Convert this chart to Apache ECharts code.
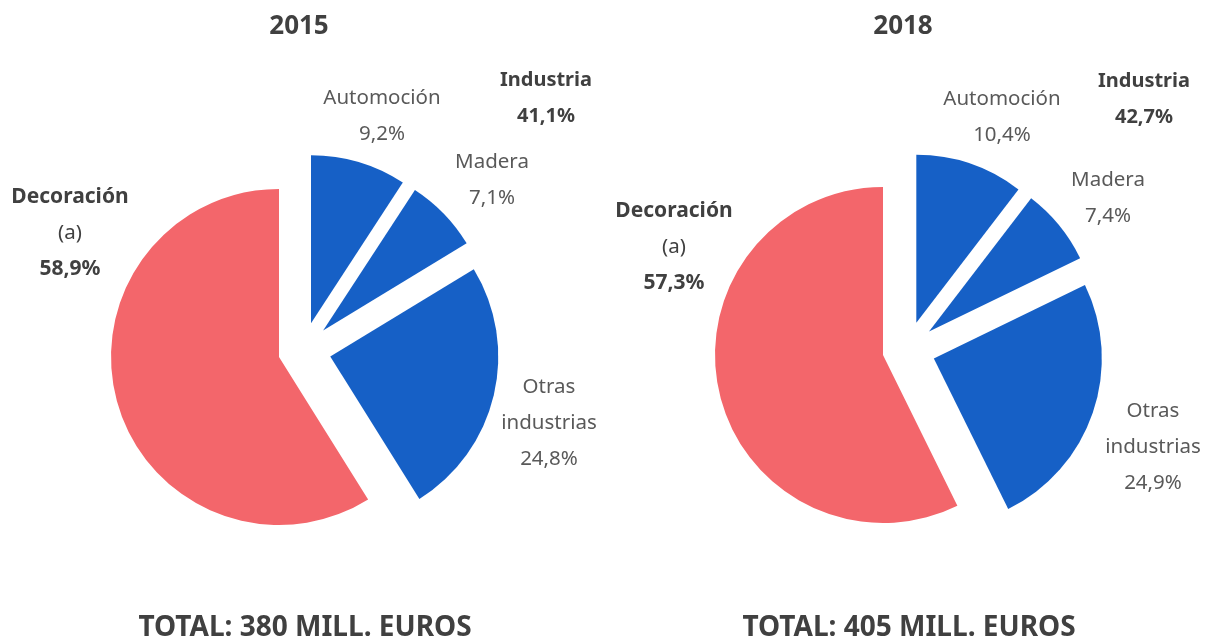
<!DOCTYPE html>
<html>
<head>
<meta charset="utf-8">
<script src="https://cdn.jsdelivr.net/npm/echarts@6/dist/echarts.min.js"></script>
<style>
html, body { margin: 0; background: #fff; }
#main { width: 1205px; height: 641px; }
</style>
</head>
<body>
<div id="main"></div>
<script>
// data (clockwise from 12 o'clock)
var years = ['2015', '2018']
var sectors = ['Automoción', 'Madera', 'Otras industrias', 'Decoración (a)']
var share2015 = [9.2, 7.1, 24.8, 58.9]
var share2018 = [10.4, 7.4, 24.9, 57.3]
var industria = [41.1, 42.7]
var totals = [380, 405]

var colors = ['#1660C6', '#1660C6', '#1660C6', '#F3666B']
var centers = [[279, 357], [883, 355]]
var labelPos = [
	[[382, 116], [492, 180], [549, 423], [70, 233]],
	[[1002, 117], [1108, 198], [1153, 447], [674, 247]]
]
var industriaPos = [[546, 98], [1144, 99]]

function fmt(v) { return v.toFixed(1).replace('.', ',') + '%' }
function dir(pct) {
	var a = pct / 100 * 2 * Math.PI
	return [Math.sin(a), -Math.cos(a)]
}

var font = 'Noto Sans'
var myChart = echarts.init(document.getElementById('main'))

var series = []
years.forEach(function (y, k) {
	var vals = k == 0 ? share2015 : share2018
	var cum = 0
	vals.forEach(function (v, i) {
		var mid = cum + v / 2
		cum += v
		var off = [0, 0]
		// blue slices: whole "industria" group pulled out, then each slice pulled out again
		if (i < 3) {
			var g = dir(industria[k] / 2), o = dir(mid)
			off = [25 * g[0] + 28 * o[0], 25 * g[1] + 28 * o[1]]
		}
		series.push({
			type: 'pie',
			radius: 168,
			center: [centers[k][0] + off[0], centers[k][1] + off[1]],
			startAngle: 90,
			clockwise: true,
			silent: true,
			animation: false,
			avoidLabelOverlap: false,
			labelLine: { show: false },
			emphasis: { disabled: true },
			data: vals.map(function (w, j) {
				var isDeco = j == 3
				var parts = sectors[j].split(' ')
				var txt = isDeco
					? '{b|' + parts[0] + '}\n{n|' + parts[1] + '}\n{b|' + fmt(w) + '}'
					: parts.map(function (p) { return '{r|' + p + '}' }).join('\n') + '\n{r|' + fmt(w) + '}'
				return {
					name: sectors[j],
					value: w,
					itemStyle: { color: j == i ? colors[j] : 'rgba(0,0,0,0)', borderWidth: 0 },
					label: {
						show: j == i,
						position: 'outside',
						formatter: txt,
						rich: {
							r: { fontFamily: font, fontSize: 20.5, color: '#595959', lineHeight: 36, align: 'center' },
							n: { fontFamily: font, fontSize: 20.5, color: '#404040', lineHeight: 36, align: 'center' },
							b: { fontFamily: font, fontSize: 21, fontWeight: 'bold', color: '#404040', lineHeight: 36, align: 'center' }
						}
					}
				}
			}),
			labelLayout: function (params) {
				var p = labelPos[k][params.dataIndex]
				return { x: p[0], y: p[1], align: 'center', verticalAlign: 'middle' }
			}
		})
	})
})

var graphics = []
years.forEach(function (y, k) {
	graphics.push({
		type: 'text', x: centers[k][0] + 20, y: 27,
		style: { text: y, textAlign: 'center', textVerticalAlign: 'middle', font: 'bold 26px "Noto Sans"', fill: '#404040' }
	})
	graphics.push({
		type: 'text', x: industriaPos[k][0], y: industriaPos[k][1],
		style: { text: 'Industria\n' + fmt(industria[k]), textAlign: 'center', textVerticalAlign: 'middle', font: 'bold 20px "Noto Sans"', lineHeight: 36, fill: '#404040' }
	})
	graphics.push({
		type: 'text', x: centers[k][0] + 26, y: 628,
		style: { text: 'TOTAL: ' + totals[k] + ' MILL. EUROS', textAlign: 'center', textVerticalAlign: 'middle', font: 'bold 28px "Noto Sans"', fill: '#404040' }
	})
})

var option = {
	backgroundColor: '#fff',
	graphic: graphics,
	series: series
}

myChart.setOption(option)
</script>
</body>
</html>
